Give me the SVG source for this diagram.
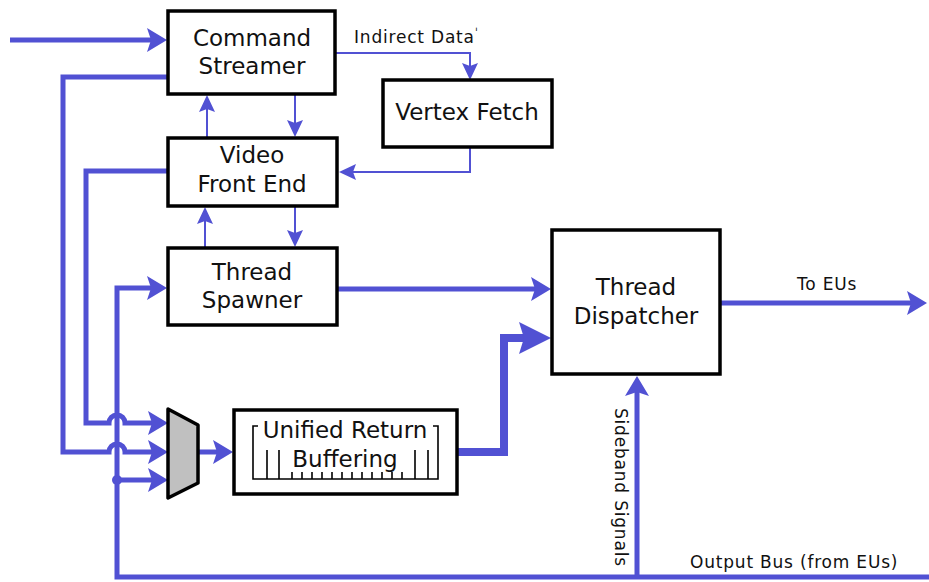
<svg xmlns="http://www.w3.org/2000/svg" width="929" height="582" viewBox="0 0 929 582">
<style>
.box{fill:#fff;stroke:#000;stroke-width:3.5}
.lbl{font-family:"DejaVu Sans",Verdana,sans-serif;font-size:23px;fill:#111;text-anchor:middle}
.sm{font-family:"DejaVu Sans",Verdana,sans-serif;font-size:17px;fill:#111;letter-spacing:0.8px}
.w{fill:none;stroke:#5151d3;stroke-width:5}
.t{fill:none;stroke:#5151d3;stroke-width:2}
.k{fill:none;stroke:#5151d3;stroke-width:8}
.ah{fill:#5151d3}
.comb{fill:none;stroke:#000;stroke-width:1.6}
</style>
<defs>
<marker id="am" markerUnits="userSpaceOnUse" markerWidth="40" markerHeight="40" refX="0" refY="0" orient="auto" overflow="visible">
<path class="ah" d="M-8,-12 L12,0 L-8,12 L-4,0 Z"/>
</marker>
<marker id="at" markerUnits="userSpaceOnUse" markerWidth="30" markerHeight="30" refX="0" refY="0" orient="auto" overflow="visible">
<path class="ah" d="M-9,-8 L8,0 L-9,8 L-6,0 Z"/>
</marker>
<marker id="ak" markerUnits="userSpaceOnUse" markerWidth="50" markerHeight="50" refX="0" refY="0" orient="auto" overflow="visible">
<path class="ah" d="M-22,-16 L10,0 L-22,16 L-17,0 Z"/>
</marker>
</defs>

<g id="connectors">
<path class="w" d="M10,40 L155,40" marker-end="url(#am)"/>
<path class="w" d="M168,77 L63,77 L63,452 L109,452 A8,8 0 0 1 125,452 L156,452" marker-end="url(#am)"/>
<path class="w" d="M168,171 L86,171 L86,423 L109,423 A8,8 0 0 1 125,423 L156,423" marker-end="url(#am)"/>
<path class="w" d="M929,577 L117,577 L117,288 L155,288" marker-end="url(#am)"/>
<path class="w" d="M117,480 L156,480" marker-end="url(#am)"/>
<circle class="ah" cx="117" cy="480" r="5"/>
<path class="w" d="M198,452 L221,452" marker-end="url(#am)"/>
<path class="t" d="M207,138 L207,103" marker-end="url(#at)"/>
<path class="t" d="M295,94 L295,129" marker-end="url(#at)"/>
<path class="t" d="M205,248 L205,215" marker-end="url(#at)"/>
<path class="t" d="M295,206 L295,239" marker-end="url(#at)"/>
<path class="t" d="M335,53 L470,53 L470,72" marker-end="url(#at)"/>
<path class="t" d="M470,147 L470,172 L347,172" marker-end="url(#at)"/>
<path class="w" d="M337,289 L539,289" marker-end="url(#am)"/>
<path class="k" d="M457,452 L504,452 L504,338 L541,338" marker-end="url(#ak)"/>
<path class="w" d="M720,303 L915,303" marker-end="url(#am)"/>
<path class="w" d="M637,577 L637,388" marker-end="url(#am)"/>
</g>

<g id="command-streamer">
<rect class="box" x="168" y="11" width="167" height="83"/>
<text class="lbl" x="252" y="46">Command</text>
<text class="lbl" x="252" y="74">Streamer</text>
</g>
<g id="vertex-fetch">
<rect class="box" x="383" y="80" width="169" height="67"/>
<text class="lbl" x="467" y="120">Vertex Fetch</text>
</g>
<g id="video-front-end">
<rect class="box" x="168" y="138" width="169" height="68"/>
<text class="lbl" x="252" y="163">Video</text>
<text class="lbl" x="252" y="192">Front End</text>
</g>
<g id="thread-spawner">
<rect class="box" x="168" y="248" width="169" height="77"/>
<text class="lbl" x="252" y="280">Thread</text>
<text class="lbl" x="252" y="308">Spawner</text>
</g>
<g id="thread-dispatcher">
<rect class="box" x="552" y="230" width="168" height="144"/>
<text class="lbl" x="636" y="295">Thread</text>
<text class="lbl" x="636" y="324">Dispatcher</text>
</g>
<g id="mux">
<polygon points="168,409 198,425 198,483 168,498" fill="#c0c0c0" stroke="#000" stroke-width="3.5" stroke-linejoin="round"/>
</g>
<g id="unified-return-buffering">
<rect class="box" x="234" y="410" width="223" height="84"/>
<path class="comb" d="M258,426 L253,426 L253,479 L438,479 L438,426 L433,426 M267,450 L267,479 M279,450 L279,479 M415,450 L415,479 M428,450 L428,479 M292,472 L292,479 M302,472 L302,479 M312,472 L312,479 M322,472 L322,479 M332,472 L332,479 M342,472 L342,479 M352,472 L352,479 M362,472 L362,479 M372,472 L372,479 M382,472 L382,479 M392,472 L392,479 M402,472 L402,479"/>
<text class="lbl" x="345" y="438">Unified Return</text>
<text class="lbl" x="345" y="467">Buffering</text>
</g>

<g id="labels">
<text class="sm" x="354" y="43">Indirect Data<tspan font-size="12" dy="-6">ˈ</tspan></text>
<text class="sm" x="797" y="290">To EUs</text>
<text class="sm" x="690" y="568">Output Bus (from EUs)</text>
<text class="sm" transform="translate(615,408) rotate(90)">Sideband Signals</text>
</g>
</svg>
